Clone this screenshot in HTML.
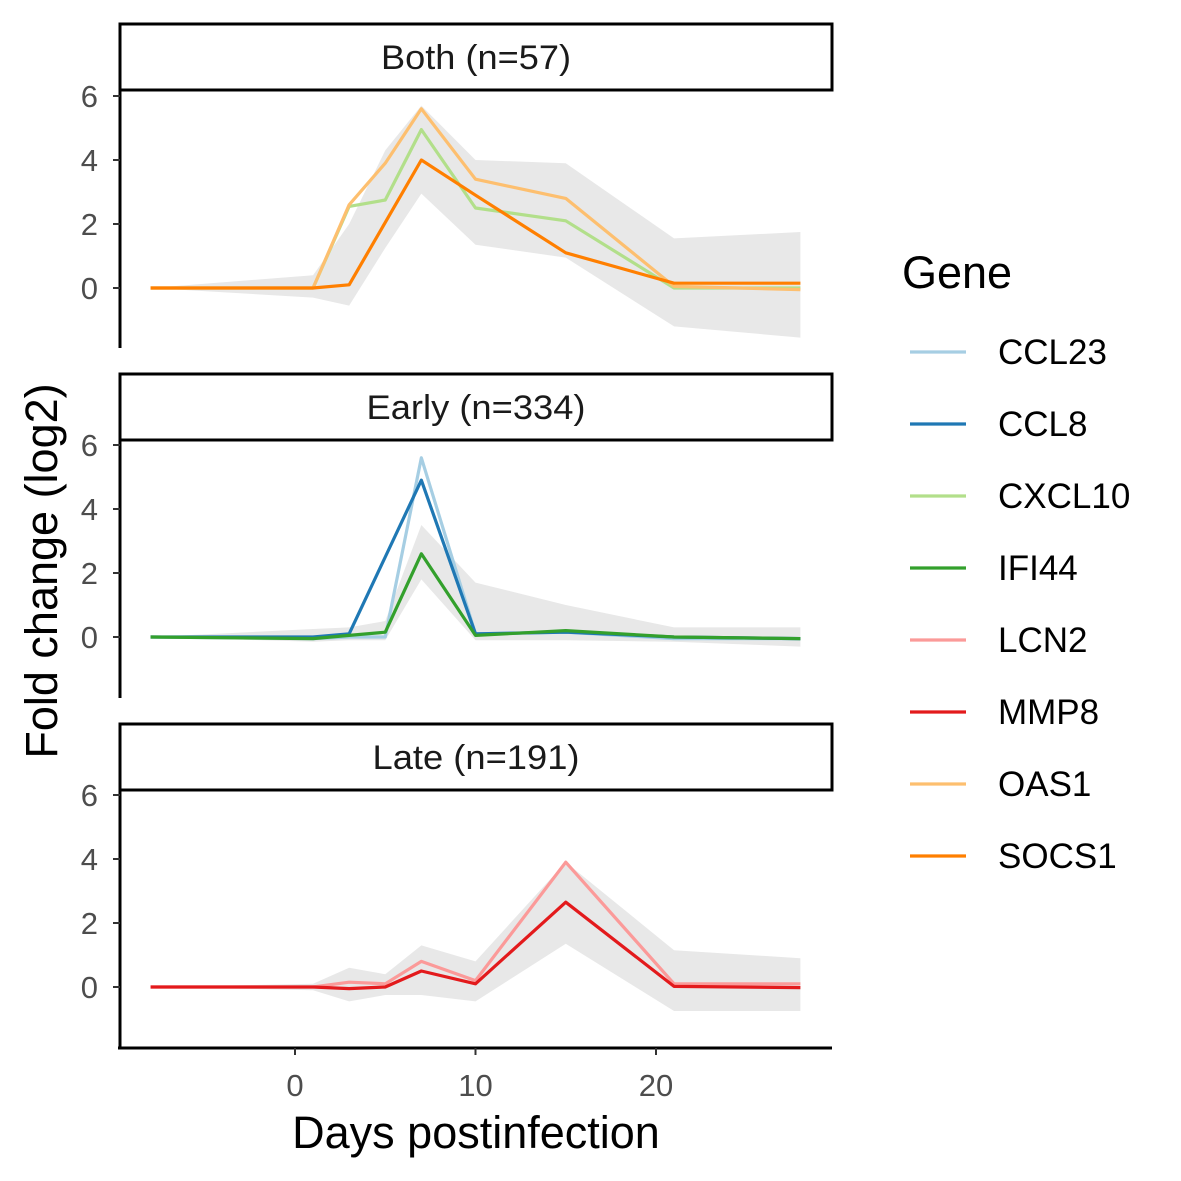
<!DOCTYPE html>
<html><head><meta charset="utf-8"><style>body{margin:0;background:#fff}svg{display:block;font-family:"Liberation Sans",Arial,sans-serif}</style></head>
<body>
<svg id="chart" width="1181" height="1181" viewBox="0 0 1181 1181"></svg>
<script>
const days = [-8, 1, 3, 5, 7, 10, 15, 21, 28];
const panelTitles = ["Both (n=57)", "Early (n=334)", "Late (n=191)"];
const genes = ["CCL23","CCL8","CXCL10","IFI44","LCN2","MMP8","OAS1","SOCS1"];
const geneColors = ["#a6cee3","#1f78b4","#b2df8a","#33a02c","#fb9a99","#e31a1c","#fdbf6f","#ff7f00"];
const yTicks = [0, 2, 4, 6];
const xTicks = [0, 10, 20];
// panel 1
const oas1 = [0, 0, 2.6, 3.9, 5.6, 3.4, 2.8, 0.05, -0.05];
const cxcl10 = [0, 0, 2.55, 2.75, 4.95, 2.5, 2.1, 0, 0];
const socs1 = [0, 0, 0.1, 2.05, 4.0, 2.9, 1.1, 0.15, 0.15];
const bothUpper = [0, 0.4, 2.0, 4.3, 5.7, 4.0, 3.9, 1.55, 1.75];
const bothLower = [0, -0.3, -0.55, 1.25, 2.95, 1.35, 0.95, -1.2, -1.55];
// panel 2
const ccl23 = [0, -0.05, 0, 0, 5.6, 0.1, 0.15, -0.05, -0.05];
const ccl8 = [0, 0, 0.1, 2.5, 4.9, 0.1, 0.15, 0, -0.05];
const ifi44 = [0, -0.05, 0.05, 0.15, 2.6, 0.05, 0.2, 0, -0.05];
const earlyUpper = [0, 0.25, 0.3, 0.5, 3.5, 1.7, 1.0, 0.3, 0.3];
const earlyLower = [0, -0.15, -0.1, -0.1, 1.8, -0.1, -0.1, -0.15, -0.3];
// panel 3
const lcn2 = [0, 0, 0.15, 0.1, 0.8, 0.2, 3.9, 0.1, 0.1];
const mmp8 = [0, 0, -0.05, 0, 0.5, 0.1, 2.65, 0.02, -0.02];
const lateUpper = [0, 0.1, 0.6, 0.4, 1.3, 0.8, 3.9, 1.15, 0.9];
const lateLower = [0, -0.1, -0.45, -0.25, -0.25, -0.45, 1.35, -0.75, -0.75];

const panels = [
  {top:90, zero:288, upper:bothUpper, lower:bothLower, series:[["CXCL10",cxcl10],["OAS1",oas1],["SOCS1",socs1]]},
  {top:440, zero:637, upper:earlyUpper, lower:earlyLower, series:[["CCL23",ccl23],["CCL8",ccl8],["IFI44",ifi44]]},
  {top:790, zero:987, upper:lateUpper, lower:lateLower, series:[["LCN2",lcn2],["MMP8",mmp8]]}
];
const NS = "http://www.w3.org/2000/svg";
const svg = document.getElementById("chart");
function mk(tag, attrs, parent){const e=document.createElementNS(NS,tag);for(const k in attrs)e.setAttribute(k,attrs[k]);(parent||svg).appendChild(e);return e;}
const xScale = d => 295 + d * 18.05;
const L = 120, R = 832;

panels.forEach((p, i) => {
  const yScale = v => p.zero - v * 32;
  const g = mk("g", {});
  
  
  const strip = mk("rect", {x:L, y:p.top-66, width:R-L, height:66, fill:"#fff", stroke:"#000", "stroke-width":3}, g);
  
  
  const st = mk("text", {x:(L+R)/2, y:p.top-21, "text-anchor":"middle", "font-size":34, fill:"#1a1a1a", textLength:(i==0?190:(i==1?219:207)), lengthAdjust:"spacingAndGlyphs"}, g);
  st.textContent = panelTitles[i];
  
  
  let pts = days.map((d,k)=>xScale(d)+","+yScale(p.upper[k]));
  pts = pts.concat(days.map((d,k)=>xScale(d)+","+yScale(p.lower[k])).reverse());
  const rib = mk("polygon", {points:pts.join(" "), fill:"#e8e8e8"}, g);
  
  
  p.series.forEach(([name, vals]) => {
    const c = geneColors[genes.indexOf(name)];
    const ln = mk("polyline", {points:days.map((d,k)=>xScale(d)+","+yScale(vals[k])).join(" "), fill:"none", stroke:c, "stroke-width":3.2, "stroke-linejoin":"round"}, g);
    
    
  });
  const ax = mk("line", {x1:L, x2:L, y1:p.top, y2:p.top+258, stroke:"#000", "stroke-width":3}, g);
  
  
  yTicks.forEach(t => {
    const y = yScale(t);
    mk("line", {x1:L-7, x2:L, y1:y, y2:y, stroke:"#333", "stroke-width":2}, g);
    const tl = mk("text", {x:L-22, y:y+11, "text-anchor":"end", "font-size":31, fill:"#4d4d4d"}, g);
    tl.textContent = t;
    
    
  });
});
const xa = mk("line", {x1:L-2, x2:R, y1:1048, y2:1048, stroke:"#000", "stroke-width":3});


xTicks.forEach(t => {
  const x = xScale(t);
  mk("line", {x1:x, x2:x, y1:1048, y2:1055, stroke:"#333", "stroke-width":2});
  const tl = mk("text", {x:x, y:1096, "text-anchor":"middle", "font-size":31, fill:"#4d4d4d"});
  tl.textContent = t;
  
  
});
const xt = mk("text", {x:476, y:1148, "text-anchor":"middle", "font-size":45, fill:"#000"});
xt.textContent = "Days postinfection";


const yt = mk("text", {x:0, y:0, transform:"translate(57,571) rotate(-90)", "text-anchor":"middle", "font-size":45, fill:"#000"});
yt.textContent = "Fold change (log2)";


const lt = mk("text", {x:902, y:288, "font-size":45, fill:"#000"});
lt.textContent = "Gene";


genes.forEach((gname, k) => {
  const y = 352 + k * 72;
  const eg = mk("g", {});
  
  
  mk("line", {x1:910, x2:966, y1:y, y2:y, stroke:geneColors[k], "stroke-width":3.2}, eg);
  const tx = mk("text", {x:998, y:y+12, "font-size":35, fill:"#000"}, eg);
  tx.textContent = gname;
});
</script>
</body></html>
